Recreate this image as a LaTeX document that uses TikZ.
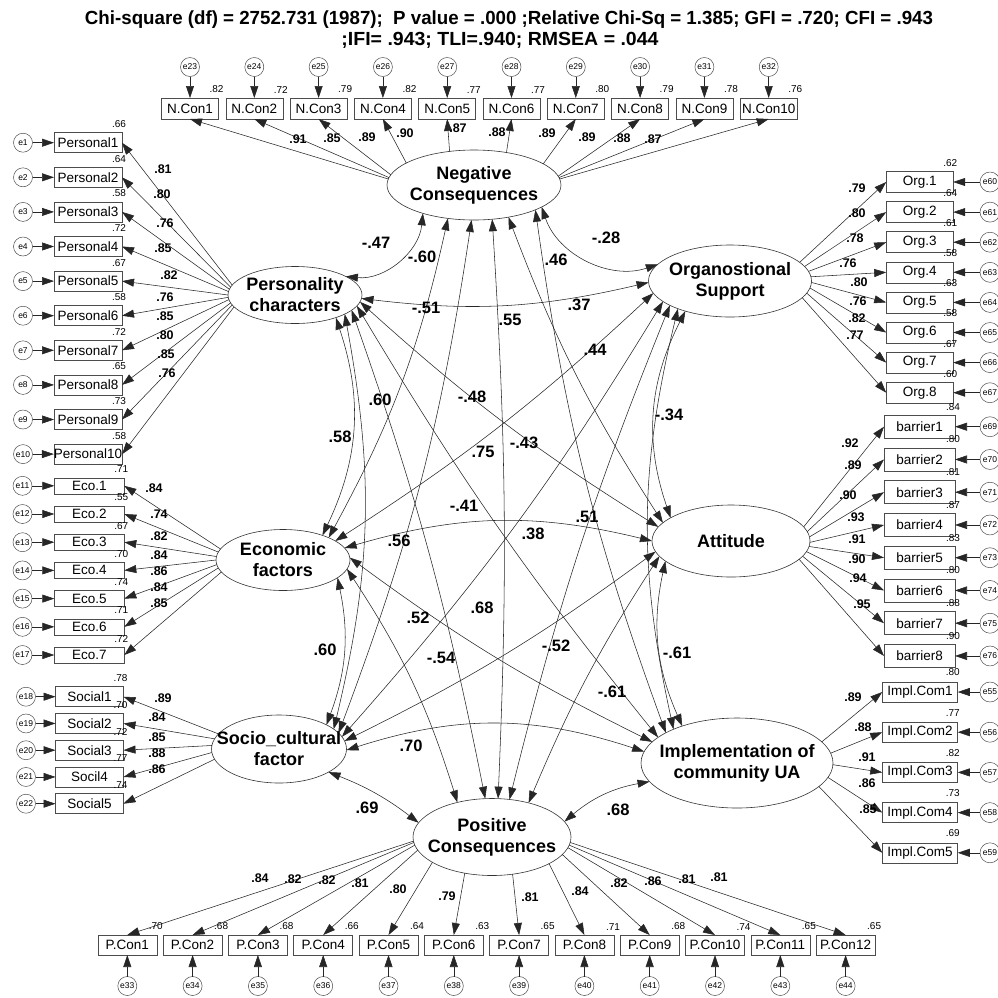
\documentclass[tikz,border=0pt]{standalone}
\usepackage{fontspec}
\setmainfont{Liberation Sans}
\usepackage{graphicx}
\usetikzlibrary{arrows.meta,shapes.geometric}
\begin{document}
\begin{tikzpicture}[x=1pt,y=-1pt,
  every node/.style={inner sep=0pt,outer sep=0pt},
  obs/.style={draw=black!70,line width=0.6pt,font=\fontsize{13.5}{15}\selectfont},
  lat/.style={ellipse,draw=black!80,line width=0.6pt},
  lt/.style={align=center,font=\bfseries\fontsize{18}{21}\selectfont},
  err/.style={circle,draw=black!70,line width=0.5pt,minimum size=19pt,font=\fontsize{8.5}{9}\selectfont},
  ld/.style={draw=black!85,line width=0.55pt,-{Triangle[length=12pt,width=8pt]}},
  cv/.style={draw=black!85,line width=0.55pt,{Triangle[length=12pt,width=8pt]}-{Triangle[length=12pt,width=8pt]}},
  wl/.style={font=\bfseries\fontsize{12.5}{13}\selectfont},
  rl/.style={anchor=south east,font=\fontsize{10}{11}\selectfont},
  cl/.style={font=\bfseries\fontsize{16.5}{18}\selectfont},
]
\useasboundingbox (0,0) rectangle (998,997);

% title
\node (t1) at (509,20) {\resizebox{848pt}{\height}{\bfseries\fontsize{19}{21}\selectfont Chi-square (df) = 2752.731 (1987);\ \ P value = .000 ;Relative Chi-Sq = 1.385; GFI = .720; CFI = .943}};
\node (t2) at (500,40) {\resizebox{317pt}{\height}{\bfseries\fontsize{19}{21}\selectfont ;IFI= .943; TLI=.940; RMSEA = .044}};

% latent variables
\node[lat,minimum width=174pt,minimum height=70pt] (NC) at (474,185) {};
\node[lt] (NCt) at (NC) {Negative\\Consequences};
\node[lat,minimum width=134pt,minimum height=57pt] (PC) at (295,295) {};
\node[lt] (PCt) at (PC) {Personality\\characters};
\node[lat,minimum width=163pt,minimum height=72pt] (OS) at (730,281) {};
\node[lt] (OSt) at (OS) {Organostional\\Support};
\node[lat,minimum width=134pt,minimum height=61pt] (EF) at (283,560) {};
\node[lt] (EFt) at (EF) {Economic\\factors};
\node[lat,minimum width=158pt,minimum height=72pt] (AT) at (731,541) {};
\node[lt] (ATt) at (AT) {Attitude};
\node[lat,minimum width=135pt,minimum height=68pt] (SC) at (279,749) {};
\node[lt] (SCt) at (SC) {Socio\_cultural\\factor};
\node[lat,minimum width=192pt,minimum height=90pt] (IM) at (737,763) {};
\node[lt] (IMt) at (IM) {Implementation of\\community UA};
\node[lat,minimum width=158pt,minimum height=77pt] (PO) at (492,837) {};
\node[lt] (POt) at (PO) {Positive\\Consequences};

% N.Con
\foreach \i/\r/\a in {1/.82/176,2/.72/175,3/.79/173,4/.82/162,5/.77/126,6/.77/45,7/.80/17,8/.79/6,9/.78/5,10/.76/4}{
  \pgfmathsetmacro\xx{190+64.3*(\i-1)}
  \pgfmathtruncatemacro\en{22+\i}
  \node[obs,minimum width=57pt,minimum height=21pt] (n\i) at (\xx,108.5) {N.Con\i};
  \node[err] (e\en) at (\xx,67) {e\en};
  \draw[ld] (e\en) -- (n\i);
  \draw[ld] (NC.\a) -- (n\i.south);
  \node[rl] (rn\i) at ([shift={(5,-5)}]n\i.north east) {\r};
}
% Personal
\foreach \i/\r in {1/.66,2/.64,3/.58,4/.72,5/.67,6/.58,7/.72,8/.65,9/.73,10/.58}{
  \pgfmathsetmacro\yy{142.7+34.6*(\i-1)}
  \pgfmathtruncatemacro\aa{171+2.3*(\i-1)}
  \node[obs,minimum width=68pt,minimum height=20pt] (p\i) at (88,\yy) {Personal\i};
  \node[err] (e\i) at (23,\yy) {e\i};
  \draw[ld] (e\i) -- (p\i);
  \draw[ld] (PC.\aa) -- (p\i.east);
  \node[rl] (rp\i) at ([shift={(4,-5)}]p\i.north east) {\r};
}
% Eco
\foreach \i/\r in {1/.71,2/.55,3/.67,4/.70,5/.74,6/.71,7/.72}{
  \pgfmathsetmacro\yy{485.8+28.2*(\i-1)}
  \pgfmathtruncatemacro\en{10+\i}
  \pgfmathtruncatemacro\aa{170+3.5*(\i-1)}
  \node[obs,minimum width=70pt,minimum height=16pt] (c\i) at (89.3,\yy) {Eco.\i};
  \node[err] (e\en) at (22.5,\yy) {e\en};
  \draw[ld] (e\en) -- (c\i);
  \draw[ld] (EF.\aa) -- (c\i.east);
  \node[rl] (rc\i) at ([shift={(4,-5)}]c\i.north east) {\r};
}
% Social
\foreach \i/\r/\t in {1/.78/Social1,2/.70/Social2,3/.72/Social3,4/.77/Socil4,5/.74/Social5}{
  \pgfmathsetmacro\yy{696.7+26.75*(\i-1)}
  \pgfmathtruncatemacro\en{17+\i}
  \pgfmathtruncatemacro\aa{166+5.75*(\i-1)}
  \node[obs,minimum width=68pt,minimum height=20pt] (s\i) at (89.5,\yy) {\t};
  \node[err] (e\en) at (26,\yy) {e\en};
  \draw[ld] (e\en) -- (s\i);
  \draw[ld] (SC.\aa) -- (s\i.east);
  \node[rl] (rs\i) at ([shift={(4,-5)}]s\i.north east) {\r};
}
% Org
\foreach \i/\r in {1/.62,2/.64,3/.61,4/.58,5/.63,6/.58,7/.67,8/.60}{
  \pgfmathsetmacro\yy{182+30.1*(\i-1)}
  \pgfmathtruncatemacro\en{59+\i}
  \pgfmathtruncatemacro\aa{mod(375-3.9*(\i-1),360)}
  \node[obs,minimum width=67pt,minimum height=21pt] (o\i) at (919.7,\yy) {Org.\i};
  \node[err,minimum size=20pt] (e\en) at (990,\yy) {e\en};
  \draw[ld] (e\en) -- (o\i);
  \draw[ld] (OS.\aa) -- (o\i.west);
  \node[rl] (ro\i) at ([shift={(4,-5)}]o\i.north east) {\r};
}
% barrier
\foreach \i/\r in {1/.84,2/.80,3/.81,4/.87,5/.83,6/.80,7/.88,8/.90}{
  \pgfmathsetmacro\yy{426.7+32.75*(\i-1)}
  \pgfmathtruncatemacro\en{68+\i}
  \pgfmathtruncatemacro\aa{mod(371-3.7*(\i-1),360)}
  \node[obs,minimum width=71pt,minimum height=23pt] (b\i) at (919.5,\yy) {barrier\i};
  \node[err,minimum size=20pt] (e\en) at (990,\yy) {e\en};
  \draw[ld] (e\en) -- (b\i);
  \draw[ld] (AT.\aa) -- (b\i.west);
  \node[rl] (rb\i) at ([shift={(5,-5)}]b\i.north east) {\r};
}
% Impl
\foreach \i/\r in {1/.80,2/.77,3/.82,4/.73,5/.69}{
  \pgfmathsetmacro\yy{692+40.2*(\i-1)}
  \pgfmathtruncatemacro\en{54+\i}
  \pgfmathtruncatemacro\aa{mod(374-7.4*(\i-1),360)}
  \node[obs,minimum width=75.5pt,minimum height=20pt] (m\i) at (920,\yy) {Impl.Com\i};
  \node[err,minimum size=20pt] (e\en) at (990,\yy) {e\en};
  \draw[ld] (e\en) -- (m\i);
  \draw[ld] (IM.\aa) -- (m\i.west);
  \node[rl] (rm\i) at ([shift={(2,-6)}]m\i.north east) {\r};
}
% P.Con
\foreach \i/\r/\a in {1/.70/183,2/.68/184,3/.68/186,4/.66/190,5/.64/203,6/.63/233,7/.65/299,8/.71/335,9/.68/346,10/.74/352,11/.65/354,12/.65/356}{
  \pgfmathsetmacro\xx{127.3+65.3*(\i-1)}
  \pgfmathtruncatemacro\en{32+\i}
  \node[obs,minimum width=59pt,minimum height=20pt] (q\i) at (\xx,945) {P.Con\i};
  \node[err] (e\en) at (\xx,986) {e\en};
  \draw[ld] (e\en) -- (q\i);
  \draw[ld] (PO.\a) -- (q\i.north);
  \node[rl] (rq\i) at ([shift={(6,-5)}]q\i.north east) {\r};
}

% loading labels
\foreach \t/\x/\y [count=\c] in {.91/298/139,.85/332/138,.89/367/137,.90/405/133,.87/458/128,.88/497/132,.89/547/133,.89/587/137,.88/622/138,.87/653/139,
 .81/163/169,.80/162/194,.76/165/223,.85/163/248,.82/169/275,.76/165/297,.85/165/316,.80/165/335,.85/166/354,.76/167/373,
 .84/154/488,.74/159/514,.82/159/536,.84/159/555,.86/159/571,.84/159/587,.85/159/603,
 .89/163/698,.84/157/717,.85/157/737,.88/157/753,.86/157/769,
 .79/857/188,.80/857/213,.78/855/238,.76/848/263,.80/859/282,.76/858/301,.82/857/318,.77/855/335,
 .92/850/443,.89/853/465,.90/848/495,.93/856/517,.91/857/539,.90/857/559,.94/858/578,.95/862/604,
 .89/853/697,.88/863/727,.91/867/757,.86/867/783,.85/868/809,
 .84/260/878,.82/293/879,.82/327/880,.81/360/883,.80/398/889,.79/447/896,.81/530/897,.84/580/891,.82/619/883,.86/653/881,.81/687/879,.81/719/877}{
  \node[wl] (w\c) at (\x,\y) {\t};
}

% covariances
\draw[cv] (NC.209) to[bend left=45] (PC.20);
\draw[cv] (NC.342) to[bend right=45] (OS.167);
\draw[cv] (NC.232) to[bend left=8] (EF.26);
\draw[cv] (NC.266) to[bend left=6] (SC.15);
\draw[cv] (NC.298) to[bend left=3] (PO.81);
\draw[cv] (NC.317) to[bend right=6] (AT.165);
\draw[cv] (NC.338) to[bend right=6] (IM.157);
\draw[cv] (PC.357) to[bend right=10] (OS.181);
\draw[cv] (PC.331) to[bend left=22] (EF.32);
\draw[cv] (PC.339) to[bend left=12] (SC.20);
\draw[cv] (PC.354) to[bend right=5] (AT.169);
\draw[cv] (PC.350) to[bend right=4] (IM.162);
\draw[cv] (PC.345) to[bend left=4] (PO.100);
\draw[cv] (OS.189) to[bend left=5] (EF.20);
\draw[cv] (OS.197) to[bend left=5] (SC.11);
\draw[cv] (OS.202) to[bend right=4] (PO.65);
\draw[cv] (OS.208) to[bend right=13] (IM.152);
\draw[cv] (OS.214) to[bend right=23] (AT.159);
\draw[cv] (EF.11) to[bend left=15] (AT.180);
\draw[cv] (EF.342) to[bend left=16] (SC.27);
\draw[cv] (EF.2) to[bend right=5] (IM.166);
\draw[cv] (EF.352) to[bend left=8] (PO.135);
\draw[cv] (AT.188) to[bend left=5] (SC.7);
\draw[cv] (AT.192) to[bend right=5] (PO.43);
\draw[cv] (AT.197) to[bend right=18] (IM.146);
\draw[cv] (SC.359) to[bend left=18] (IM.173);
\draw[cv] (SC.335) to[bend left=8] (PO.169);
\draw[cv] (IM.192) to[bend right=15] (PO.12);

% covariance labels
\foreach \t/\x/\y [count=\c] in {-.47/376/243,-.60/422/257,-.28/606/238,.46/556/260,-.51/426/308,.55/510/320,.37/579/305,.44/595/350,-.48/472/397,.60/380/400,.58/340/437,.75/483/452,-.43/524/443,-.34/669/415,-.41/464/506,.56/399/541,.51/587/517,.38/533/534,.52/418/618,.68/482/608,.60/325/650,-.54/441/658,-.52/556/646,-.61/612/692,-.61/677/653,.70/411/746,.69/367/808,.68/618/810}{
  \node[cl] (k\c) at (\x,\y) {\t};
}
\end{tikzpicture}
\end{document}
